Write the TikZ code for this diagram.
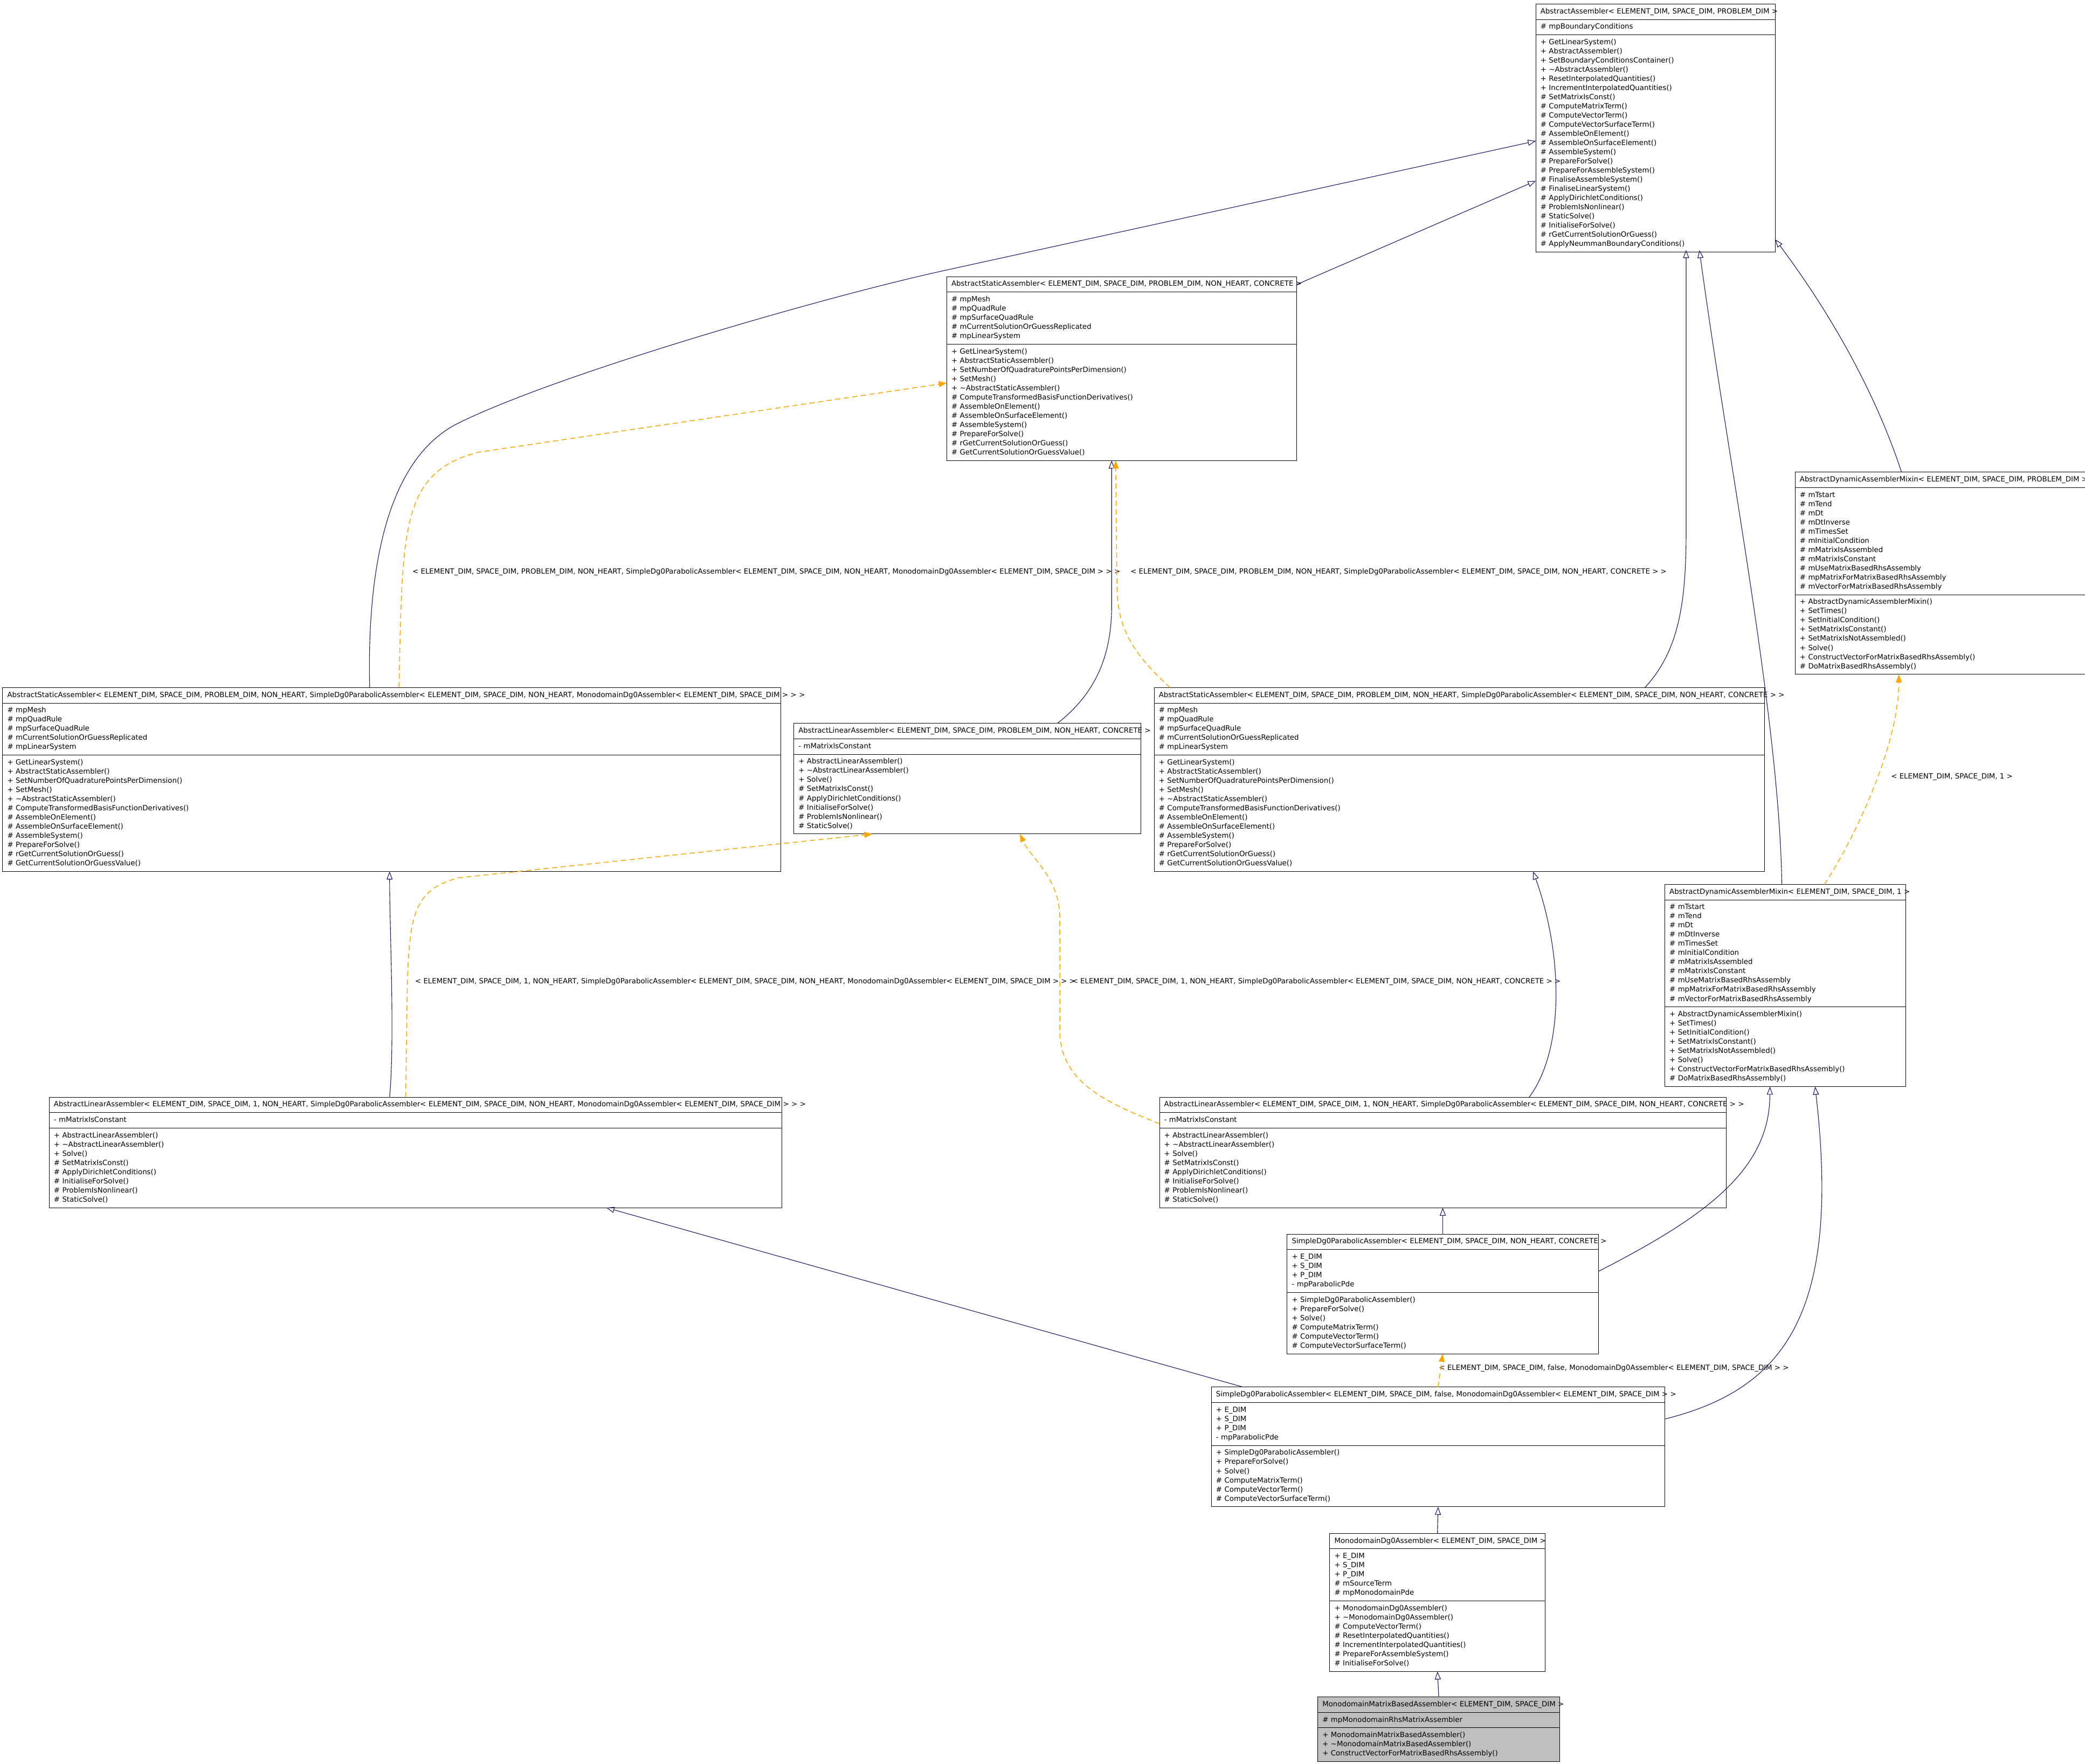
\documentclass[tikz,border=0pt]{standalone}
\usepackage{fontspec}
\setmainfont{DejaVu Sans}
\usepackage{tikz}
\usetikzlibrary{shapes.multipart, arrows.meta, calc}
\usepackage{xcolor}
\definecolor{edgeblue}{HTML}{191970}
\definecolor{edgeorange}{HTML}{FFA500}
\definecolor{leafgray}{HTML}{BFBFBF}

\newcommand{\ctitle}[1]{\strut\mbox{#1}}
\newcommand{\members}[1]{\strut#1\strut}
\newcommand{\staticattrs}{\members{\# mpMesh\\\# mpQuadRule\\\# mpSurfaceQuadRule\\\# mCurrentSolutionOrGuessReplicated\\\# mpLinearSystem}}
\newcommand{\staticops}{\members{+ GetLinearSystem()\\+ AbstractStaticAssembler()\\+ SetNumberOfQuadraturePointsPerDimension()\\+ SetMesh()\\+ \textasciitilde AbstractStaticAssembler()\\\# ComputeTransformedBasisFunctionDerivatives()\\\# AssembleOnElement()\\\# AssembleOnSurfaceElement()\\\# AssembleSystem()\\\# PrepareForSolve()\\\# rGetCurrentSolutionOrGuess()\\\# GetCurrentSolutionOrGuessValue()}}
\newcommand{\linattrs}{\members{- mMatrixIsConstant}}
\newcommand{\linops}{\members{+ AbstractLinearAssembler()\\+ \textasciitilde AbstractLinearAssembler()\\+ Solve()\\\# SetMatrixIsConst()\\\# ApplyDirichletConditions()\\\# InitialiseForSolve()\\\# ProblemIsNonlinear()\\\# StaticSolve()}}
\newcommand{\dynattrs}{\members{\# mTstart\\\# mTend\\\# mDt\\\# mDtInverse\\\# mTimesSet\\\# mInitialCondition\\\# mMatrixIsAssembled\\\# mMatrixIsConstant\\\# mUseMatrixBasedRhsAssembly\\\# mpMatrixForMatrixBasedRhsAssembly\\\# mVectorForMatrixBasedRhsAssembly}}
\newcommand{\dynops}{\members{+ AbstractDynamicAssemblerMixin()\\+ SetTimes()\\+ SetInitialCondition()\\+ SetMatrixIsConstant()\\+ SetMatrixIsNotAssembled()\\+ Solve()\\+ ConstructVectorForMatrixBasedRhsAssembly()\\\# DoMatrixBasedRhsAssembly()}}
\newcommand{\sdattrs}{\members{+ E\_DIM\\+ S\_DIM\\+ P\_DIM\\- mpParabolicPde}}
\newcommand{\sdops}{\members{+ SimpleDg0ParabolicAssembler()\\+ PrepareForSolve()\\+ Solve()\\\# ComputeMatrixTerm()\\\# ComputeVectorTerm()\\\# ComputeVectorSurfaceTerm()}}

\begin{document}
\begin{tikzpicture}[x=1pt, y=-1pt,
    cls/.style={draw, fill=white, rectangle split, rectangle split parts=3, anchor=north west,
      align=left, inner xsep=3.5pt, inner ysep=2.15pt, outer sep=0pt, line width=0.4pt,
      font=\fontsize{5.4}{6.9}\selectfont},
    inherit/.style={edgeblue, line width=0.45pt, -{Triangle[open, length=6pt, width=4.5pt]}},
    instance/.style={edgeorange, line width=0.6pt, dash pattern=on 4pt off 2.5pt,
      -{Triangle[length=6pt, width=4.5pt]}},
    tmpl/.style={anchor=west, inner sep=0pt, font=\fontsize{5.4}{6.9}\selectfont}]
  \useasboundingbox (0,0) rectangle (1568,1326);

  % classes
  \node[cls, text width=173pt] (aa) at (1155,3) {\ctitle{AbstractAssembler< ELEMENT\_DIM, SPACE\_DIM, PROBLEM\_DIM >}
    \nodepart{two}\members{\# mpBoundaryConditions}
    \nodepart{three}\members{+ GetLinearSystem()\\+ AbstractAssembler()\\+ SetBoundaryConditionsContainer()\\+ \textasciitilde AbstractAssembler()\\+ ResetInterpolatedQuantities()\\+ IncrementInterpolatedQuantities()\\\# SetMatrixIsConst()\\\# ComputeMatrixTerm()\\\# ComputeVectorTerm()\\\# ComputeVectorSurfaceTerm()\\\# AssembleOnElement()\\\# AssembleOnSurfaceElement()\\\# AssembleSystem()\\\# PrepareForSolve()\\\# PrepareForAssembleSystem()\\\# FinaliseAssembleSystem()\\\# FinaliseLinearSystem()\\\# ApplyDirichletConditions()\\\# ProblemIsNonlinear()\\\# StaticSolve()\\\# InitialiseForSolve()\\\# rGetCurrentSolutionOrGuess()\\\# ApplyNeummanBoundaryConditions()}};
  \node[cls, text width=256pt] (staticConc) at (712,208) {\ctitle{AbstractStaticAssembler< ELEMENT\_DIM, SPACE\_DIM, PROBLEM\_DIM, NON\_HEART, CONCRETE >}
    \nodepart{two}\staticattrs \nodepart{three}\staticops};
  \node[cls, text width=235pt] (dynP) at (1350,355) {\ctitle{AbstractDynamicAssemblerMixin< ELEMENT\_DIM, SPACE\_DIM, PROBLEM\_DIM >}
    \nodepart{two}\dynattrs \nodepart{three}\dynops};
  \node[cls, text width=578pt] (staticMono) at (2,517) {\ctitle{AbstractStaticAssembler< ELEMENT\_DIM, SPACE\_DIM, PROBLEM\_DIM, NON\_HEART, SimpleDg0ParabolicAssembler< ELEMENT\_DIM, SPACE\_DIM, NON\_HEART, MonodomainDg0Assembler< ELEMENT\_DIM, SPACE\_DIM > > >}
    \nodepart{two}\staticattrs \nodepart{three}\staticops};
  \node[cls, text width=254pt] (linConc) at (597,544) {\ctitle{AbstractLinearAssembler< ELEMENT\_DIM, SPACE\_DIM, PROBLEM\_DIM, NON\_HEART, CONCRETE >}
    \nodepart{two}\linattrs \nodepart{three}\linops};
  \node[cls, text width=452pt] (staticSD) at (868,517) {\ctitle{AbstractStaticAssembler< ELEMENT\_DIM, SPACE\_DIM, PROBLEM\_DIM, NON\_HEART, SimpleDg0ParabolicAssembler< ELEMENT\_DIM, SPACE\_DIM, NON\_HEART, CONCRETE > >}
    \nodepart{two}\staticattrs \nodepart{three}\staticops};
  \node[cls, text width=174pt] (dynOne) at (1252,665) {\ctitle{AbstractDynamicAssemblerMixin< ELEMENT\_DIM, SPACE\_DIM, 1 >}
    \nodepart{two}\dynattrs \nodepart{three}\dynops};
  \node[cls, text width=544pt] (linMono) at (37,825) {\ctitle{AbstractLinearAssembler< ELEMENT\_DIM, SPACE\_DIM, 1, NON\_HEART, SimpleDg0ParabolicAssembler< ELEMENT\_DIM, SPACE\_DIM, NON\_HEART, MonodomainDg0Assembler< ELEMENT\_DIM, SPACE\_DIM > > >}
    \nodepart{two}\linattrs \nodepart{three}\linops};
  \node[cls, text width=419pt] (linSD) at (872,825) {\ctitle{AbstractLinearAssembler< ELEMENT\_DIM, SPACE\_DIM, 1, NON\_HEART, SimpleDg0ParabolicAssembler< ELEMENT\_DIM, SPACE\_DIM, NON\_HEART, CONCRETE > >}
    \nodepart{two}\linattrs \nodepart{three}\linops};
  \node[cls, text width=227pt] (sdConc) at (968,928) {\ctitle{SimpleDg0ParabolicAssembler< ELEMENT\_DIM, SPACE\_DIM, NON\_HEART, CONCRETE >}
    \nodepart{two}\sdattrs \nodepart{three}\sdops};
  \node[cls, text width=334pt] (sdMono) at (911,1043) {\ctitle{SimpleDg0ParabolicAssembler< ELEMENT\_DIM, SPACE\_DIM, false, MonodomainDg0Assembler< ELEMENT\_DIM, SPACE\_DIM > >}
    \nodepart{two}\sdattrs \nodepart{three}\sdops};
  \node[cls, text width=155pt] (mono) at (1000,1153) {\ctitle{MonodomainDg0Assembler< ELEMENT\_DIM, SPACE\_DIM >}
    \nodepart{two}\members{+ E\_DIM\\+ S\_DIM\\+ P\_DIM\\\# mSourceTerm\\\# mpMonodomainPde}
    \nodepart{three}\members{+ MonodomainDg0Assembler()\\+ \textasciitilde MonodomainDg0Assembler()\\\# ComputeVectorTerm()\\\# ResetInterpolatedQuantities()\\\# IncrementInterpolatedQuantities()\\\# PrepareForAssembleSystem()\\\# InitialiseForSolve()}};
  \node[cls, fill=leafgray, text width=175pt] (mmb) at (991,1276) {\ctitle{MonodomainMatrixBasedAssembler< ELEMENT\_DIM, SPACE\_DIM >}
    \nodepart{two}\members{\# mpMonodomainRhsMatrixAssembler}
    \nodepart{three}\members{+ MonodomainMatrixBasedAssembler()\\+ \textasciitilde MonodomainMatrixBasedAssembler()\\+ ConstructVectorForMatrixBasedRhsAssembly()}};

  % template arguments
  \node[tmpl] (argStaticMono) at (310,430) {< ELEMENT\_DIM, SPACE\_DIM, PROBLEM\_DIM, NON\_HEART, SimpleDg0ParabolicAssembler< ELEMENT\_DIM, SPACE\_DIM, NON\_HEART, MonodomainDg0Assembler< ELEMENT\_DIM, SPACE\_DIM > > >};
  \node[tmpl] (argStaticSD) at (850,430) {< ELEMENT\_DIM, SPACE\_DIM, PROBLEM\_DIM, NON\_HEART, SimpleDg0ParabolicAssembler< ELEMENT\_DIM, SPACE\_DIM, NON\_HEART, CONCRETE > >};
  \node[tmpl] (argDynOne) at (1422,584) {< ELEMENT\_DIM, SPACE\_DIM, 1 >};
  \node[tmpl] (argLinMono) at (312,738) {< ELEMENT\_DIM, SPACE\_DIM, 1, NON\_HEART, SimpleDg0ParabolicAssembler< ELEMENT\_DIM, SPACE\_DIM, NON\_HEART, MonodomainDg0Assembler< ELEMENT\_DIM, SPACE\_DIM > > >};
  \node[tmpl] (argLinSD) at (806,738) {< ELEMENT\_DIM, SPACE\_DIM, 1, NON\_HEART, SimpleDg0ParabolicAssembler< ELEMENT\_DIM, SPACE\_DIM, NON\_HEART, CONCRETE > >};
  \node[tmpl] (argSdMono) at (1082,1029) {< ELEMENT\_DIM, SPACE\_DIM, false, MonodomainDg0Assembler< ELEMENT\_DIM, SPACE\_DIM > >};

  % inheritance
  \draw[inherit] ($(staticMono.north west)+(276,0)$) .. controls (276,430) and (290,345) .. (345,318)
    .. controls (420,281) and (620,223) .. (712,203) -- ($(aa.north west)+(0,103)$);
  \draw[inherit] ($(staticConc.north east)+(0,6)$) -- ($(aa.north west)+(0,133)$);
  \draw[inherit] ($(linConc.north west)+(198,0)$) .. controls (826,520) and (836,490) .. (836,455) -- ($(staticConc.south west)+(124,0)$);
  \draw[inherit] ($(staticSD.north west)+(369,0)$) .. controls (1262,490) and (1268,455) .. (1268,400) -- ($(aa.north west)+(113,185)$);
  \draw[inherit] ($(dynOne.north west)+(88,0)$) .. controls (1338,540) and (1300,350) .. ($(aa.north west)+(123,185)$);
  \draw[inherit] ($(dynP.north west)+(80,0)$) .. controls (1412,300) and (1380,240) .. ($(aa.north east)+(0,177)$);
  \draw[inherit] ($(linMono.north west)+(256,0)$) .. controls (297,780) and (293,700) .. ($(staticMono.south west)+(291,0)$);
  \draw[inherit] ($(linSD.north west)+(278,0)$) .. controls (1176,790) and (1176,720) .. ($(staticSD.south west)+(285,0)$);
  \draw[inherit] (sdConc.north) -- (linSD.south);
  \draw[inherit] ($(sdConc.north east)+(0,28)$) .. controls (1282,915) and (1331,880) .. ($(dynOne.south west)+(79,0)$);
  \draw[inherit] ($(sdMono.north west)+(24,0)$) -- ($(linMono.south west)+(419,0)$);
  \draw[inherit] ($(sdMono.north east)+(0,24)$) .. controls (1340,1045) and (1385,990) .. ($(dynOne.south west)+(113,0)$);
  \draw[inherit] (mono.north) -- (sdMono.south);
  \draw[inherit] (mmb.north) -- (mono.south);

  % template instances
  \draw[instance] ($(staticMono.north west)+(298,0)$) .. controls (303,400) and (300,355) .. (360,340) -- ($(staticConc.north west)+(0,80)$);
  \draw[instance] ($(staticSD.north west)+(12,0)$) .. controls (850,490) and (840,470) .. (840,440) -- ($(staticConc.south west)+(127,0)$);
  \draw[instance] ($(dynOne.north west)+(120,0)$) .. controls (1395,630) and (1428,560) .. ($(dynP.south west)+(78,0)$);
  \draw[instance] ($(linMono.north west)+(268,0)$) .. controls (308,700) and (300,672) .. (345,660) -- ($(linConc.south west)+(59,0)$);
  \draw[instance] ($(linSD.north west)+(0,20)$) .. controls (835,830) and (797,815) .. (797,775) -- (797,690) .. controls (797,660) and (775,645) .. ($(linConc.south west)+(170,0)$);
  \draw[instance] (sdMono.north) -- (sdConc.south);
\end{tikzpicture}
\end{document}
